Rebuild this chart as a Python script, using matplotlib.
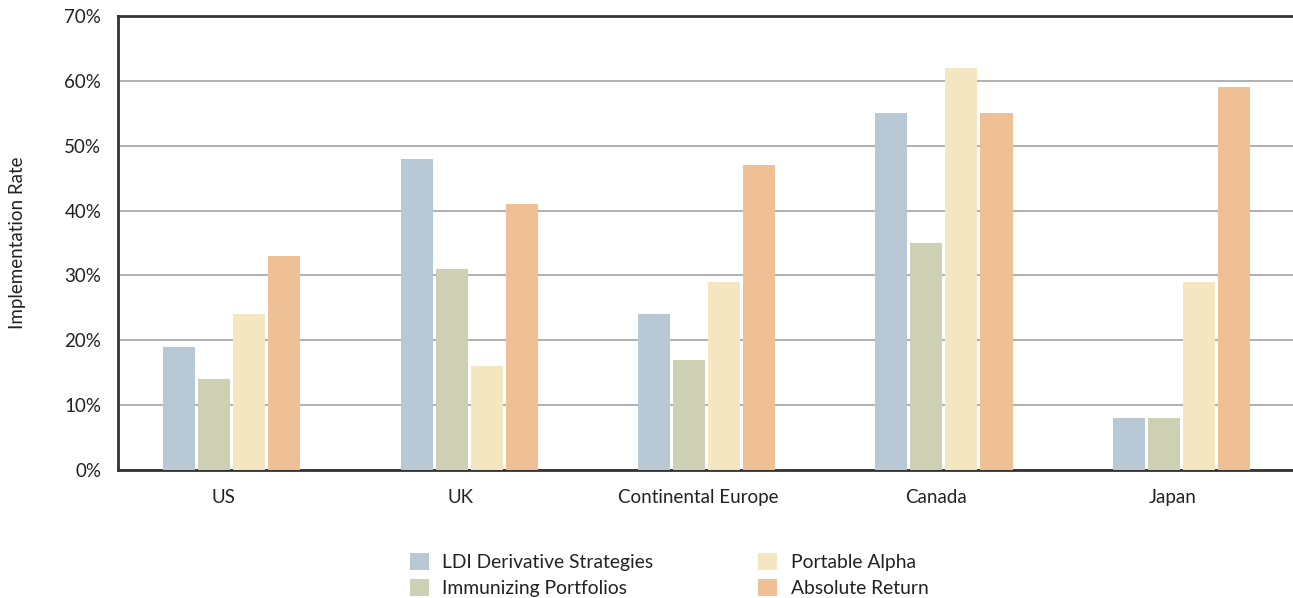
import matplotlib
matplotlib.use("Agg")
import matplotlib.pyplot as plt
import numpy as np

categories = ["US", "UK", "Continental Europe", "Canada", "Japan"]
series_names = ["LDI Derivative Strategies", "Immunizing Portfolios", "Portable Alpha", "Absolute Return"]
ldi = [19, 48, 24, 55, 8]
immunizing = [14, 31, 17, 35, 8]
portable = [24, 16, 29, 62, 29]
absolute = [33, 41, 47, 55, 59]
yticks = [0, 10, 20, 30, 40, 50, 60, 70]
colors = ["#b8c8d5", "#cdd0b3", "#f4e6c0", "#efbf95"]

plt.rcParams['font.family'] = ['Lato', 'DejaVu Sans']

fig = plt.figure(figsize=(12.93, 5.98), dpi=100)
ax = fig.add_axes([118/1293, 1-470/598, 1-118/1293 + 0.01, (470-16)/598])

x = np.arange(len(categories))
width = 0.135
step = 0.1475
data = [ldi, immunizing, portable, absolute]
handles = []
for i, (vals, name, c) in enumerate(zip(data, series_names, colors)):
    b = ax.bar(x + (i - 1.5) * step, vals, width, color=c, label=name, zorder=3)
    handles.append(b)

ax.set_ylim(0, 70)
ax.set_xlim(-0.48, 4.525)
ax.set_yticks(yticks)
ax.set_yticklabels([f"{v}%" for v in yticks])
ax.set_xticks(x - 0.035)
ax.set_xticklabels(categories)
ax.tick_params(axis='both', length=0, labelsize=13.5, colors='#222222')
ax.tick_params(axis='y', pad=12)
ax.tick_params(axis='x', pad=13.5)
ax.yaxis.grid(True, color='#aaaaaa', linewidth=1.3, zorder=0)
ax.set_axisbelow(True)
for s in ['left', 'bottom', 'top']:
    ax.spines[s].set_color('#333333')
    ax.spines[s].set_linewidth(2)
ax.spines['right'].set_visible(False)

fig.text(18/1293, 1-243/598, "Implementation Rate", rotation=90, ha='center', va='center',
         fontsize=13.5, color='#222222')

leg = fig.legend(handles=handles, labels=series_names, ncol=2, loc='upper left',
                 bbox_to_anchor=(400/1293, 1-543.5/598), frameon=False, borderpad=0,
                 handlelength=1.0, handleheight=1.0, handletextpad=0.7,
                 labelspacing=0.38, columnspacing=5.4, fontsize=13.9)
for t in leg.get_texts():
    t.set_color('#222222')

fig.savefig("out.png", dpi=100)
